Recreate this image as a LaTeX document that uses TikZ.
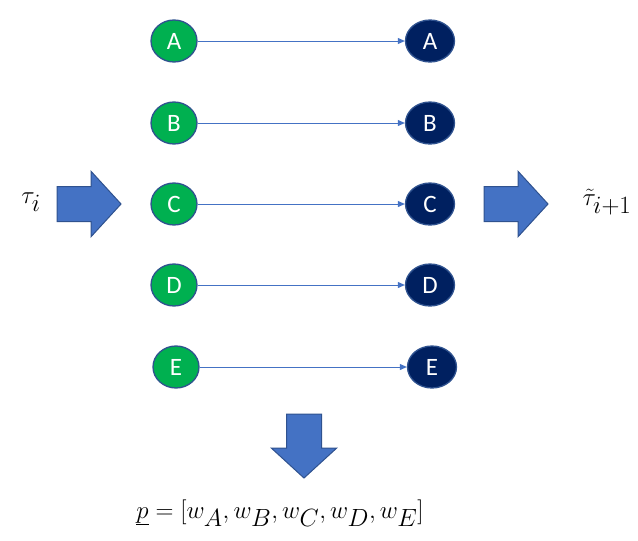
\documentclass[tikz,border=0pt]{standalone}
\usepackage{fontspec}
\newfontfamily\nodefont{Carlito}
\usetikzlibrary{arrows.meta,shapes.geometric,shapes.arrows}

\definecolor{greenc}{HTML}{00B050}
\definecolor{navyc}{HTML}{002060}
\definecolor{rimc}{HTML}{2F528F}
\definecolor{bluec}{HTML}{4472C4}

\begin{document}
\begin{tikzpicture}[x=1pt, y=-1pt, >={Triangle[length=7pt,width=6pt]}]

        \def\xin{174}          % x of the input nodes
        \def\xout{430}         % x of the output nodes
        \tikzstyle{innode}=[ellipse,draw=rimc,fill=greenc,line width=1.3pt,minimum width=46pt,minimum height=42pt,inner sep=0pt,text=white,font=\nodefont\fontsize{25}{25}\selectfont]
        \tikzstyle{outnode}=[innode,fill=navyc,minimum width=49pt]
        \tikzstyle{blockarrow}=[single arrow,draw=rimc,fill=bluec,line width=1pt,inner xsep=0pt,inner ysep=17pt,minimum height=64pt,single arrow head extend=15pt,single arrow tip angle=95]
        \tikzset{mathfont/.style = {font={\fontsize{#1pt}{#1pt}\selectfont}}}

        \useasboundingbox (0,0) rectangle (638,541);

        % Draw the nodes and connect them
        \foreach \name / \yy / \dx in {A/41/0, B/123/0, C/204/0, D/285/0, E/367/2}{
                \node[innode] (In-\name) at (\xin+\dx,\yy) {\name};
                \node[outnode] (Out-\name) at (\xout+\dx,\yy) {\name};
                \draw [->,bluec,line width=0.9pt] (In-\name) edge (Out-\name);
        }

        % Draw the block arrows
        \node[blockarrow] (Arr-in) at (81,204) {};
        \node[blockarrow] (Arr-out) at (508,204) {};
        \node[blockarrow,rotate=270] (Arr-down) at (304,438) {};

        % Labels
        \node[mathfont=34] (Tau-in) at (31,202) {$\tau_i$};
        \node[mathfont=34] (Tau-out) at (607,202) {$\tilde{\tau}_{i+1}$};
        \node[mathfont=34] (Weights) at (280,513) {$\underline{p} = [w_A, w_B, w_C, w_D, w_E]$};

\end{tikzpicture}
\end{document}
